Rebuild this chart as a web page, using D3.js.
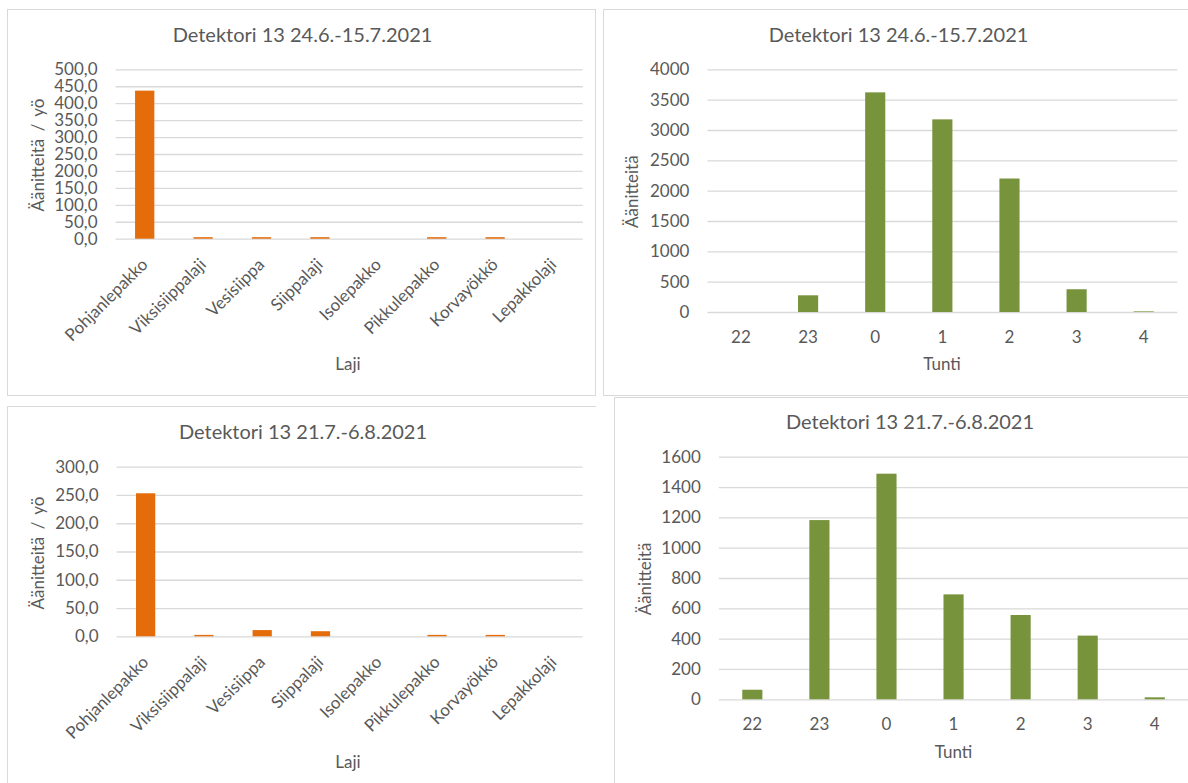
<!DOCTYPE html>
<html>
<head>
<meta charset="utf-8">
<script src="https://cdn.jsdelivr.net/npm/d3@7"></script>
<style>
  html, body { margin: 0; padding: 0; background: #fff; }
  svg { display: block; font-family: Lato, "Open Sans", sans-serif; }
</style>
</head>
<body>
<svg id="chart" width="1188" height="783"></svg>
<script>
// ---- data ----
const species = ["Pohjanlepakko", "Viksisiippalaji", "Vesisiippa", "Siippalaji", "Isolepakko", "Pikkulepakko", "Korvayökkö", "Lepakkolaji"];
const perNightJune = [437, 4.5, 4.5, 4.5, 0, 4.5, 4.5, 0];
const perNightJuly = [253, 2.5, 11, 9, 0, 2.5, 2.5, 0];
const hours = ["22", "23", "0", "1", "2", "3", "4"];
const hourlyJune = [0, 275, 3620, 3175, 2200, 375, 10];
const hourlyJuly = [63, 1182, 1488, 692, 556, 420, 13];
const ticksPerNightJune = [0, 50, 100, 150, 200, 250, 300, 350, 400, 450, 500];
const ticksPerNightJuly = [0, 50, 100, 150, 200, 250, 300];
const ticksHourlyJune = [0, 500, 1000, 1500, 2000, 2500, 3000, 3500, 4000];
const ticksHourlyJuly = [0, 200, 400, 600, 800, 1000, 1200, 1400, 1600];
const titleJune = "Detektori 13 24.6.-15.7.2021";
const titleJuly = "Detektori 13 21.7.-6.8.2021";

const TEXT = "#595959", GRID = "#d9d9d9", ORANGE = "#e46c0a", GREEN = "#77933c";
const FS = 17, FT = 20;
const svg = d3.select("#chart");

// panel borders
const borders = svg.append("g").attr("fill", "none").attr("stroke", GRID).attr("stroke-width", 1);
borders.append("rect").attr("x", 7.5).attr("y", 9.5).attr("width", 588).attr("height", 386);
borders.append("path").attr("d", "M1189,9.5H603.5V395.5H1189");
borders.append("path").attr("d", "M7.5,784V406.5H596");
borders.append("path").attr("d", "M1189,397.5H614.5V784");

const commaFmt = v => d3.format(".1f")(v).replace(".", ",");

function drawPanel(cfg) {
  const g = svg.append("g");
  const y = d3.scaleLinear().domain([0, cfg.max]).range([cfg.y0, cfg.y1]);
  const x = d3.scaleBand().domain(cfg.cats).range([cfg.x0, cfg.x1])
    .paddingInner(1 - cfg.barFrac).paddingOuter((1 - cfg.barFrac) / 2);
  const w = cfg.x1 - cfg.x0;

  // y axis with gridlines
  const ya = g.append("g").attr("transform", `translate(${cfg.x0},0)`)
    .call(d3.axisLeft(y).tickValues(cfg.ticks).tickSize(-w).tickPadding(18).tickFormat(cfg.fmt));
  ya.select(".domain").remove();
  ya.selectAll("line").attr("stroke", GRID).attr("stroke-width", 1.3);
  ya.selectAll("text").attr("fill", TEXT).attr("font-size", FS).attr("font-family", "Lato");

  // bars
  g.append("g").selectAll("rect").data(cfg.values).join("rect")
    .attr("x", (d, i) => x(cfg.cats[i]))
    .attr("width", x.bandwidth())
    .attr("y", d => y(d))
    .attr("height", d => y(0) - y(d))
    .attr("fill", cfg.color);

  // x labels
  if (cfg.rotate) {
    g.append("g").selectAll("text").data(cfg.cats).join("text")
      .attr("transform", d => `translate(${x(d) + x.bandwidth() / 2 + 4},${cfg.y0 + 27}) rotate(-45)`)
      .attr("text-anchor", "end")
      .attr("fill", TEXT).attr("font-size", FS)
      .text(d => d);
  } else {
    const xa = g.append("g").attr("transform", `translate(0,${cfg.y0})`)
      .call(d3.axisBottom(x).tickSize(0).tickPadding(18.5));
    xa.select(".domain").remove();
    xa.selectAll("text").attr("fill", TEXT).attr("font-size", FS).attr("font-family", "Lato");
  }

  // titles
  g.append("text").attr("x", cfg.titleX).attr("y", cfg.titleY).attr("dy", "0.35em")
    .attr("text-anchor", "middle").attr("fill", TEXT).attr("font-size", FT).text(cfg.title);
  g.append("text").attr("transform", `translate(${cfg.yTitleX},${cfg.yTitleY}) rotate(-90)`)
    .attr("dy", "0.35em").attr("text-anchor", "middle").attr("fill", TEXT).attr("font-size", FS)
    .attr("word-spacing", 3)
    .text(cfg.yTitle);
  g.append("text").attr("x", cfg.xTitleX).attr("y", cfg.xTitleY).attr("dy", "0.35em")
    .attr("text-anchor", "middle").attr("fill", TEXT).attr("font-size", FS).text(cfg.xTitle);
}

drawPanel({
  cats: species, values: perNightJune, max: 500, ticks: ticksPerNightJune, fmt: commaFmt,
  x0: 115.5, x1: 582.7, y0: 238.7, y1: 69.3, barFrac: 0.33, color: ORANGE, rotate: true,
  title: titleJune, titleX: 302.5, titleY: 35,
  yTitle: "Äänitteitä / yö", yTitleX: 38.5, yTitleY: 155,
  xTitle: "Laji", xTitleX: 348, xTitleY: 364
});
drawPanel({
  cats: hours, values: hourlyJune, max: 4000, ticks: ticksHourlyJune, fmt: d3.format("d"),
  x0: 707.4, x1: 1177.3, y0: 312, y1: 69.3, barFrac: 0.30, color: GREEN, rotate: false,
  title: titleJune, titleX: 898.5, titleY: 35,
  yTitle: "Äänitteitä", yTitleX: 632, yTitleY: 191.7,
  xTitle: "Tunti", xTitleX: 942, xTitleY: 364
});
drawPanel({
  cats: species, values: perNightJuly, max: 300, ticks: ticksPerNightJuly, fmt: commaFmt,
  x0: 116.5, x1: 582.7, y0: 636.3, y1: 466.7, barFrac: 0.33, color: ORANGE, rotate: true,
  title: titleJuly, titleX: 303, titleY: 431.7,
  yTitle: "Äänitteitä / yö", yTitleX: 38.5, yTitleY: 553,
  xTitle: "Laji", xTitleX: 348, xTitleY: 762.3
});
drawPanel({
  cats: hours, values: hourlyJuly, max: 1600, ticks: ticksHourlyJuly, fmt: d3.format("d"),
  x0: 718.8, x1: 1188.3, y0: 699.3, y1: 456.7, barFrac: 0.30, color: GREEN, rotate: false,
  title: titleJuly, titleX: 910, titleY: 421.7,
  yTitle: "Äänitteitä", yTitleX: 645.3, yTitleY: 579,
  xTitle: "Tunti", xTitleX: 953.5, xTitleY: 751.7
});
</script>
</body>
</html>
